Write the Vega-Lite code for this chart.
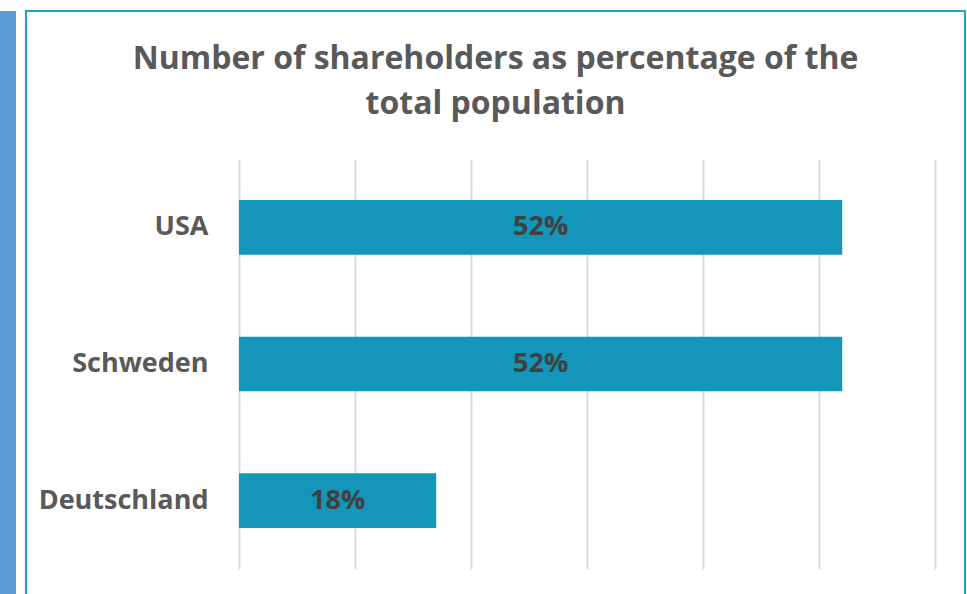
{
  "$schema": "https://vega.github.io/schema/vega-lite/v6.json",
  "padding": {"left": 0, "top": 10, "right": 0, "bottom": 0},
  "background": "white",
  "spacing": 10,
  "bounds": "flush",
  "config": {"view": {"stroke": null}, "font": "Open Sans"},
  "hconcat": [
    {
      "width": 16,
      "height": 584,
      "view": {"fill": "#5b9bd5", "stroke": null},
      "data": {"values": []},
      "mark": "rect",
      "encoding": {}
    },
    {
      "width": 939,
      "height": 584,
      "view": {"stroke": "#1fa2c8", "strokeWidth": 2},
      "title": {
        "text": ["Number of shareholders as percentage of the", "total population"],
        "font": "Open Sans",
        "fontSize": 32,
        "fontWeight": "bold",
        "color": "#595959",
        "anchor": "middle",
        "offset": -110,
        "lineHeight": 45
      },
      "data": {
        "values": [
          {"country": "USA", "value": 52, "label": "52%"},
          {"country": "Schweden", "value": 52, "label": "52%"},
          {"country": "Deutschland", "value": 17, "label": "18%"}
        ]
      },
      "encoding": {
        "y": {
          "field": "country",
          "type": "nominal",
          "scale": {
            "domain": ["USA", "Schweden", "Deutschland"],
            "range": [148, 558],
            "paddingInner": 0.6,
            "paddingOuter": 0.3
          },
          "axis": {
            "orient": "left",
            "offset": -182,
            "labelPadding": 0,
            "ticks": false,
            "tickSize": 0,
            "domain": false,
            "grid": false,
            "title": null,
            "labelFont": "Open Sans",
            "labelFontSize": 27,
            "labelFontWeight": "bold",
            "labelColor": "#595959",
            "labelAlign": "right"
          }
        }
      },
      "layer": [
        {
          "mark": {"type": "bar", "color": "#1396b9"},
          "encoding": {
            "x": {
              "field": "value",
              "type": "quantitative",
              "scale": {"domain": [0, 60], "range": [213, 909], "nice": false},
              "axis": {
                "orient": "top",
                "values": [0, 10, 20, 30, 40, 50, 60],
                "grid": true,
                "labels": false,
                "ticks": false,
                "domain": false,
                "title": null,
                "gridColor": "#d9d9d9",
                "gridWidth": 2
              }
            }
          }
        },
        {
          "mark": {"type": "text", "font": "Open Sans", "fontSize": 27, "fontWeight": "bold", "color": "#404040", "align": "center", "baseline": "middle"},
          "encoding": {
            "x": {
              "field": "value",
              "type": "quantitative",
              "scale": {"domain": [0, 120], "range": [213, 909], "nice": false, "zero": true},
              "axis": null
            },
            "text": {"field": "label"}
          }
        }
      ],
      "resolve": {"scale": {"x": "independent"}, "axis": {"x": "independent"}}
    }
  ]
}
